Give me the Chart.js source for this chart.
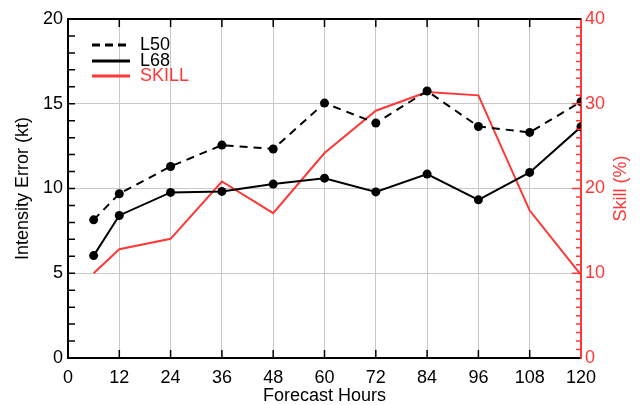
<!DOCTYPE html>
<html>
<head>
<meta charset="utf-8">
<script src="https://cdn.jsdelivr.net/npm/chart.js@4"></script>
<style>
html, body { margin: 0; padding: 0; background: #fff; }
</style>
</head>
<body>
<canvas id="graph" width="640" height="405"></canvas>
<script>
"use strict"

// forecast hours and the three series
let hours = [6, 12, 24, 36, 48, 60, 72, 84, 96, 108, 120]
let l50 = [8.15, 9.69, 11.3, 12.56, 12.33, 15.04, 13.86, 15.75, 13.66, 13.31, 15.12]
let l68 = [6.04, 8.41, 9.77, 9.83, 10.26, 10.61, 9.8, 10.85, 9.33, 10.95, 13.64]
let skill = [10.0, 12.84, 14.06, 20.83, 17.09, 24.18, 29.18, 31.39, 30.99, 17.4, 9.8]

let legendNames = ["L50", "L68", "SKILL"]

const RED = "rgb(255,55,55)"
const GRID = "rgb(200,200,200)"

Chart.defaults.font.family = "'Liberation Sans', Arial, sans-serif"
Chart.defaults.font.size = 18
Chart.defaults.color = "#000"

function pts(vals) {
    return hours.map((h, i) => ({ x: h, y: vals[i] }))
}

// inward ticks, top frame, legend and the right title
let extras = {
    id: "extras",
    afterDraw(chart) {
        let ctx = chart.ctx
        let a = chart.chartArea
        let x = chart.scales.x, y = chart.scales.y, y2 = chart.scales.y2
        ctx.save()
        ctx.lineWidth = 2
        ctx.strokeStyle = "#000"
        ctx.beginPath()
        ctx.moveTo(a.left, a.top)
        ctx.lineTo(a.right, a.top)
        ctx.stroke()

        ctx.lineWidth = 1.5
        ctx.beginPath()
        for (let v = 12; v < 120; v += 12) {
            let px = x.getPixelForValue(v)
            ctx.moveTo(px, a.bottom); ctx.lineTo(px, a.bottom - 8)
            ctx.moveTo(px, a.top); ctx.lineTo(px, a.top + 8)
        }
        for (let v = 1; v < 20; v++) {
            let py = y.getPixelForValue(v)
            ctx.moveTo(a.left, py); ctx.lineTo(a.left + 7, py)
        }
        ctx.stroke()

        ctx.strokeStyle = RED
        ctx.beginPath()
        for (let v = 1; v < 40; v++) {
            let py = y2.getPixelForValue(v)
            let len = v % 10 === 0 ? 9 : 5
            ctx.moveTo(a.right, py); ctx.lineTo(a.right - len, py)
        }
        ctx.stroke()

        // legend
        let rows = [45, 61, 76]
        let styles = [["#000", [8, 5]], ["#000", []], [RED, []]]
        ctx.lineWidth = 3
        ctx.font = "18px 'Liberation Sans', Arial, sans-serif"
        ctx.textBaseline = "middle"
        rows.forEach((ry, i) => {
            ctx.strokeStyle = styles[i][0]
            ctx.setLineDash(styles[i][1])
            ctx.beginPath()
            ctx.moveTo(92, ry); ctx.lineTo(130, ry)
            ctx.stroke()
            ctx.fillStyle = styles[i][0]
            ctx.fillText(legendNames[i], 140, ry)
        })
        ctx.setLineDash([])

        // right axis title, reading upward
        ctx.translate(621, (a.top + a.bottom) / 2)
        ctx.rotate(-Math.PI / 2)
        ctx.textAlign = "center"
        ctx.fillStyle = RED
        ctx.fillText("Skill (%)", 0, 0)
        ctx.restore()
    }
}

let graph = new Chart(document.querySelector("#graph"), {
    type: "line",
    data: {
        datasets: [{
            label: "L50",
            data: pts(l50),
            borderColor: "#000",
            borderWidth: 2,
            borderDash: [8, 6],
            pointRadius: 4.5,
            pointBackgroundColor: "#000",
            pointBorderWidth: 0,
            yAxisID: "y"
        }, {
            label: "L68",
            data: pts(l68),
            borderColor: "#000",
            borderWidth: 2,
            pointRadius: 4.5,
            pointBackgroundColor: "#000",
            pointBorderWidth: 0,
            yAxisID: "y"
        }, {
            label: "SKILL",
            data: pts(skill),
            borderColor: RED,
            borderWidth: 2,
            pointRadius: 0,
            yAxisID: "y2"
        }]
    },
    options: {
        responsive: false,
        animation: false,
        layout: { padding: { top: 19, left: 0, right: 0, bottom: 0 } },
        plugins: { legend: { display: false }, tooltip: { enabled: false } },
        scales: {
            x: {
                type: "linear",
                min: 0, max: 120,
                afterFit: s => { s.height = 47 },
                ticks: { stepSize: 12, autoSkip: false, maxRotation: 0, padding: 9 },
                grid: { color: GRID, drawTicks: false },
                border: { color: "#000", width: 2 },
                title: { display: true, text: "Forecast Hours", padding: { top: 0, bottom: 0 }, font: { size: 18, lineHeight: 1 } }
            },
            y: {
                position: "left",
                min: 0, max: 20,
                afterFit: s => { s.width = 68 },
                ticks: { stepSize: 5, padding: 5 },
                grid: { color: GRID, drawTicks: false },
                border: { color: "#000", width: 2 },
                title: { display: true, text: "Intensity Error (kt)", padding: { top: 12, bottom: 0 }, font: { size: 18 } }
            },
            y2: {
                position: "right",
                min: 0, max: 40,
                afterFit: s => { s.width = 59 },
                ticks: { stepSize: 10, padding: 4, color: RED },
                grid: { drawOnChartArea: false, drawTicks: false },
                border: { color: RED, width: 2 }
            }
        }
    },
    plugins: [extras]
})
</script>
</body>
</html>
